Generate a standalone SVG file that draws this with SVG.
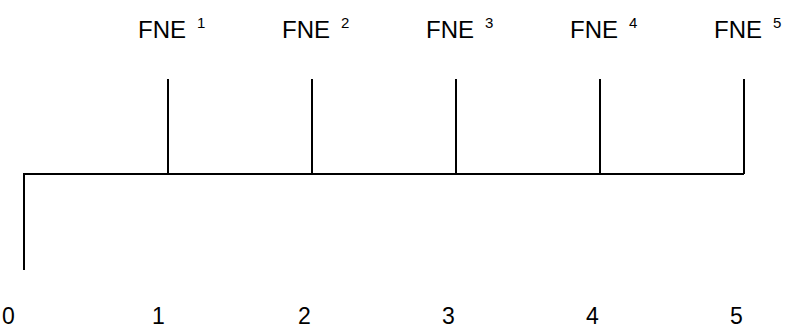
<svg xmlns="http://www.w3.org/2000/svg" width="787" height="329" viewBox="0 0 787 329">
<style>
.t{font-family:"Liberation Sans",Arial,sans-serif;font-size:24px;fill:#000}
.d{font-family:"Liberation Sans",Arial,sans-serif;font-size:23px;fill:#000}
.s{font-family:"Liberation Sans",Arial,sans-serif;font-size:15px;fill:#000}
.ln{stroke:#000;stroke-width:2;fill:none}
</style>
<rect width="787" height="329" fill="#fff"/>
<g id="connectors">
<path class="ln" d="M24 270V174H744"/>
<path class="ln" d="M168 79V174M312 79V174M456 79V174M600 79V174M744 79V174"/>
</g>
<g id="fne1"><text class="t" x="138" y="38">FNE</text><text class="s" x="197" y="28">1</text></g>
<g id="fne2"><text class="t" x="282" y="38">FNE</text><text class="s" x="341" y="28">2</text></g>
<g id="fne3"><text class="t" x="426" y="38">FNE</text><text class="s" x="485" y="28">3</text></g>
<g id="fne4"><text class="t" x="570" y="38">FNE</text><text class="s" x="629" y="28">4</text></g>
<g id="fne5"><text class="t" x="714" y="38">FNE</text><text class="s" x="773" y="28">5</text></g>
<g id="l0"><text class="d" x="2" y="324">0</text></g>
<g id="l1"><text class="d" x="152" y="324">1</text></g>
<g id="l2"><text class="d" x="298" y="324">2</text></g>
<g id="l3"><text class="d" x="442" y="324">3</text></g>
<g id="l4"><text class="d" x="586" y="324">4</text></g>
<g id="l5"><text class="d" x="730" y="324">5</text></g>
</svg>
